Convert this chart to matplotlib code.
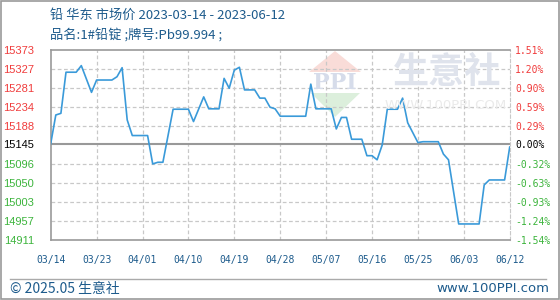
import pandas as pd
import matplotlib
matplotlib.use("Agg")
import matplotlib.pyplot as plt
import matplotlib.dates as mdates
from matplotlib.patches import Polygon, Rectangle
from matplotlib.lines import Line2D

plt.rcParams["font.family"] = ["Noto Sans CJK SC", "DejaVu Sans"]

# 铅 华东 市场价
dates = ["2023-03-14", "2023-03-15", "2023-03-16", "2023-03-17", "2023-03-19",
         "2023-03-20", "2023-03-22", "2023-03-23", "2023-03-26", "2023-03-27",
         "2023-03-28", "2023-03-29", "2023-03-30", "2023-04-02", "2023-04-03",
         "2023-04-04", "2023-04-05", "2023-04-07", "2023-04-10", "2023-04-11",
         "2023-04-13", "2023-04-14", "2023-04-16", "2023-04-17", "2023-04-18",
         "2023-04-19", "2023-04-20", "2023-04-21", "2023-04-23", "2023-04-24",
         "2023-04-25", "2023-04-26", "2023-04-27", "2023-04-28", "2023-05-03",
         "2023-05-04", "2023-05-05", "2023-05-08", "2023-05-09", "2023-05-10",
         "2023-05-11", "2023-05-12", "2023-05-14", "2023-05-15", "2023-05-16",
         "2023-05-17", "2023-05-18", "2023-05-19", "2023-05-21", "2023-05-22",
         "2023-05-23", "2023-05-25", "2023-05-26", "2023-05-29", "2023-05-30",
         "2023-05-31", "2023-06-02", "2023-06-06", "2023-06-07", "2023-06-08",
         "2023-06-11", "2023-06-12"]
prices = [15145, 15215, 15219, 15319, 15319,
          15335, 15270, 15300, 15300, 15308,
          15330, 15203, 15165, 15165, 15096,
          15100, 15100, 15229, 15229, 15199,
          15259, 15230, 15230, 15304, 15280,
          15324, 15331, 15276, 15276, 15256,
          15256, 15234, 15230, 15212, 15212,
          15290, 15230, 15230, 15181, 15209,
          15209, 15156, 15156, 15116, 15116,
          15106, 15142, 15229, 15229, 15256,
          15196, 15148, 15150, 15150, 15120,
          15106, 14950, 14950, 15045, 15057,
          15057, 15137]

base_price = 15145
y_ticks = [15373, 15327, 15281, 15234, 15188, 15145, 15096, 15050, 15003, 14957, 14911]
pct_labels = ["1.51%", "1.20%", "0.90%", "0.59%", "0.29%", "0.00%",
              "-0.32%", "-0.63%", "-0.93%", "-1.24%", "-1.54%"]
x_ticks = ["2023-03-14", "2023-03-23", "2023-04-01", "2023-04-10", "2023-04-19",
           "2023-04-28", "2023-05-07", "2023-05-16", "2023-05-25", "2023-06-03",
           "2023-06-12"]

title = "铅 华东 市场价 2023-03-14 - 2023-06-12"
subtitle = "品名:1#铅锭 ;牌号:Pb99.994 ;"

TXT_BLUE = "#1d5b8c"
RED = "#f03c3c"
GREEN = "#3cb43c"
GRID = "#c8c8c8"

dt = pd.to_datetime(dates)
xt = pd.to_datetime(x_ticks)

fig = plt.figure(figsize=(5.6, 3.0), dpi=100)
W, H = 560, 300


def fx(px):
    return px / W


def fy(py):
    return 1 - py / H


ax = fig.add_axes([fx(50.7), fy(240), fx(509.7) - fx(50.7), fy(50) - fy(240)])

# watermark
fig.text(fx(447), fy(72), "生意社", fontsize=26, color="#dfe3ec", ha="center", va="center",
         fontweight="bold", zorder=0)
fig.text(fx(446), fy(106), "WWW.100PPI.COM", fontsize=9.5, color="#eaeaea", ha="center",
         va="center", family="DejaVu Sans", zorder=0)
fig.add_artist(Polygon([[fx(335), fy(51)], [fx(309), fy(72)], [fx(361), fy(72)]],
                       closed=True, facecolor="#f9dcd8", edgecolor="none", zorder=0))
fig.add_artist(Polygon([[fx(311), fy(93)], [fx(360), fy(93)], [fx(335), fy(117)]],
                       closed=True, facecolor="#dcefdc", edgecolor="none", zorder=0))
fig.text(fx(335), fy(83), "PPI", fontsize=16, color="#d6dcea", ha="center", va="center",
         fontweight="bold", family="DejaVu Serif", zorder=0)
ax.patch.set_alpha(0)

ax.plot(dt, prices, color="#3a9ad9", linewidth=1.2, zorder=3)

ax.set_xlim(xt[0], xt[-1])
ax.set_ylim(y_ticks[-1], y_ticks[0])

ax.set_xticks(xt)
ax.xaxis.set_major_formatter(mdates.DateFormatter("%m/%d"))
ax.set_yticks(y_ticks)
ax.set_yticklabels([str(v) for v in y_ticks])
ax.tick_params(axis="both", length=0)
ax.tick_params(axis="x", pad=10.5, labelsize=7, labelcolor=TXT_BLUE)
ax.tick_params(axis="y", pad=12, labelsize=8)
for lab in ax.get_xticklabels():
    lab.set_family("DejaVu Sans Mono")
for lab, v in zip(ax.get_yticklabels(), y_ticks):
    lab.set_family("Liberation Sans")
    lab.set_color(RED if v > base_price else (GREEN if v < base_price else "black"))

for v in y_ticks[1:-1]:
    if v != base_price:
        ax.axhline(v, color=GRID, linewidth=0.9, linestyle=(0, (3, 2)), zorder=1)
for d in xt[1:-1]:
    ax.axvline(d, color=GRID, linewidth=0.9, linestyle=(0, (3, 2)), zorder=1)
ax.axhline(base_price, color="#999999", linewidth=1.5, zorder=2)

for side in ["left", "top", "bottom"]:
    ax.spines[side].set_color("#999999")
    ax.spines[side].set_linewidth(1.2)
ax.spines["right"].set_color(GRID)
ax.spines["right"].set_linestyle((0, (3, 2)))

ax2 = ax.twinx()
ax2.set_ylim(ax.get_ylim())
ax2.set_yticks(y_ticks)
ax2.set_yticklabels(pct_labels)
ax2.tick_params(axis="y", length=0, pad=4, labelsize=7)
for lab, v in zip(ax2.get_yticklabels(), y_ticks):
    lab.set_family("DejaVu Sans Mono")
    lab.set_color(RED if v > base_price else (GREEN if v < base_price else "black"))
for s in ax2.spines.values():
    s.set_visible(False)

fig.text(fx(50), fy(15), title, fontsize=9.5, color=TXT_BLUE, ha="left", va="center")
fig.text(fx(50), fy(35), subtitle, fontsize=9.5, color=TXT_BLUE, ha="left", va="center")

fig.add_artist(Line2D([fx(10), fx(546)], [fy(278.5), fy(278.5)], color="#aaaaaa", linewidth=1))
fig.text(fx(10), fy(289), "© 2025.05 生意社", fontsize=10, color=TXT_BLUE, ha="left", va="center")
fig.text(fx(549), fy(289), "www.100PPI.com", fontsize=9.5, color=TXT_BLUE, ha="right",
         va="center", family="DejaVu Sans")

fig.add_artist(Rectangle((0.001, 0.002), 0.997, 0.995, fill=False, edgecolor="#999999",
                         linewidth=1.2))

fig.savefig("out.png", dpi=100)
